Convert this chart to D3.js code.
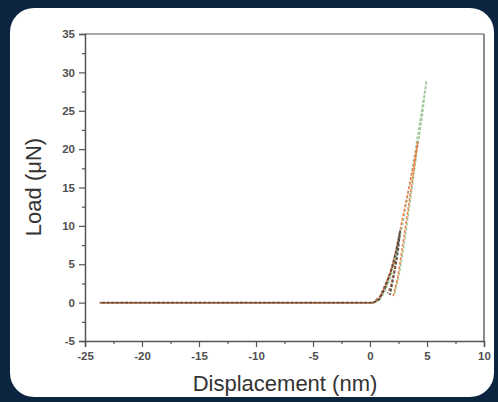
<!DOCTYPE html>
<html>
<head>
<meta charset="utf-8">
<script src="https://cdn.jsdelivr.net/npm/d3@7/dist/d3.min.js"></script>
<style>
  html, body { margin: 0; padding: 0; background: #0b2540; }
  svg { display: block; }
  .tick-label { font-family: "Liberation Sans", Arial, sans-serif; font-size: 11.5px; font-weight: bold; fill: #505050; }
  .axis-title { font-family: "Liberation Sans", Arial, sans-serif; font-size: 22px; fill: #333; }
</style>
</head>
<body>
<svg id="chart" width="498" height="402"></svg>
<script>
// ---- DATA ----
const xTicks = [-25, -20, -15, -10, -5, 0, 5, 10];
const yTicks = [-5, 0, 5, 10, 15, 20, 25, 30, 35];
const xMinor = [-22.5, -17.5, -12.5, -7.5, -2.5, 2.5, 7.5];
const yMinor = [-2.5, 2.5, 7.5, 12.5, 17.5, 22.5, 27.5, 32.5];

// [displacement nm, load uN]
const greenCurve = [
  [-23.7, 0], [-15, 0], [-5, 0], [0.3, 0], [0.8, 0.3], [1.3, 1.4], [1.8, 3.3], [2.3, 6.2],
  [2.8, 9.8], [3.3, 13.8], [3.8, 18.3], [4.3, 22.8], [4.95, 28.9],
  [4.6, 24.5], [4.1, 19.5], [3.6, 14], [3.1, 8.6], [2.6, 4], [2.15, 1.1]
];
const orangeCurve = [
  [-23.7, 0], [-12, 0], [-2, 0], [0.3, 0], [0.8, 0.5], [1.3, 2], [1.8, 4], [2.3, 7],
  [2.8, 10.6], [3.3, 14.2], [3.8, 17.7], [4.2, 21],
  [3.8, 16.8], [3.3, 11.8], [2.8, 6.8], [2.4, 3], [2.0, 0.7]
];
const blackCurve = [
  [-23.7, 0], [-8, 0], [0.3, 0], [0.8, 0.4], [1.3, 1.8], [1.8, 3.9], [2.2, 6.1], [2.65, 9.4],
  [2.45, 6.6], [2.15, 4], [1.75, 1]
];
const brownCurve = [
  [-23.7, 0], [-6, 0], [0.3, 0], [0.9, 0.9], [1.4, 2.6], [1.9, 4.4], [2.35, 5.8],
  [2.1, 3.9], [1.8, 2.1], [1.55, 1.2]
];

const seriesColors = ["#8fc08a", "#ee6a2c", "#2f2f2f", "#8a4a2c"];
const allSeries = [greenCurve, orangeCurve, blackCurve, brownCurve];

// ---- LAYOUT ----
const svg = d3.select("#chart");
const W = 498, H = 402;

svg.append("rect").attr("width", W).attr("height", H).attr("fill", "#0b2540");

// white card
svg.append("rect")
  .attr("x", 10).attr("y", 8)
  .attr("width", 484).attr("height", 389)
  .attr("rx", 24).attr("ry", 24)
  .attr("fill", "#ffffff");

const plot = { left: 85, right: 484, top: 34, bottom: 341 };

const x = d3.scaleLinear().domain([-25, 10]).range([plot.left, plot.right]);
const y = d3.scaleLinear().domain([-5, 35]).range([plot.bottom, plot.top]);

const g = svg.append("g");

// frame
g.append("line")
  .attr("x1", plot.left).attr("x2", plot.right)
  .attr("y1", plot.top).attr("y2", plot.top)
  .attr("stroke", "#8a8a8a").attr("stroke-width", 1.5);
g.append("line")
  .attr("x1", plot.right).attr("x2", plot.right)
  .attr("y1", plot.top).attr("y2", plot.bottom)
  .attr("stroke", "#666").attr("stroke-width", 1.5);

// plain hyphen for negatives, like the source figure
const fmt = d => String(d);

// bottom axis
const xAxis = d3.axisBottom(x).tickValues(xTicks).tickSize(6).tickPadding(5).tickFormat(fmt);
const xg = g.append("g").attr("transform", `translate(0,${plot.bottom})`).call(xAxis);
xg.select(".domain").attr("stroke", "#555").attr("stroke-width", 1.5);
xg.selectAll(".tick line").attr("stroke", "#555").attr("stroke-width", 1.2);
xg.selectAll(".tick text").attr("class", "tick-label").attr("fill", null);

const xMinorAxis = d3.axisBottom(x).tickValues(xMinor).tickSize(3).tickFormat("");
const xmg = g.append("g").attr("transform", `translate(0,${plot.bottom})`).call(xMinorAxis);
xmg.select(".domain").remove();
xmg.selectAll(".tick line").attr("stroke", "#555").attr("stroke-width", 1.2);

// left axis
const yAxis = d3.axisLeft(y).tickValues(yTicks).tickSize(6).tickPadding(4).tickFormat(fmt);
const yg = g.append("g").attr("transform", `translate(${plot.left},0)`).call(yAxis);
yg.select(".domain").attr("stroke", "#555").attr("stroke-width", 1.5);
yg.selectAll(".tick line").attr("stroke", "#555").attr("stroke-width", 1.2);
yg.selectAll(".tick text").attr("class", "tick-label").attr("fill", null);

const yMinorAxis = d3.axisLeft(y).tickValues(yMinor).tickSize(3).tickFormat("");
const ymg = g.append("g").attr("transform", `translate(${plot.left},0)`).call(yMinorAxis);
ymg.select(".domain").remove();
ymg.selectAll(".tick line").attr("stroke", "#555").attr("stroke-width", 1.2);

// ---- SERIES ----
const line = d3.line().x(d => x(d[0])).y(d => y(d[1]));

allSeries.forEach((s, i) => {
  g.append("path")
    .datum(s)
    .attr("d", line)
    .attr("fill", "none")
    .attr("stroke", seriesColors[i])
    .attr("stroke-width", i === 2 ? 1.8 : 1.5)
    .attr("stroke-dasharray", "3,1.6")
    .attr("stroke-dashoffset", i * 1.2)
    .attr("opacity", 0.85);
});

// ---- TITLES ----
svg.append("text")
  .attr("class", "axis-title")
  .attr("x", 285).attr("y", 391)
  .attr("text-anchor", "middle")
  .text("Displacement (nm)");

svg.append("text")
  .attr("class", "axis-title")
  .attr("transform", "translate(41,187) rotate(-90)")
  .attr("text-anchor", "middle")
  .text("Load (μN)");
</script>
</body>
</html>
